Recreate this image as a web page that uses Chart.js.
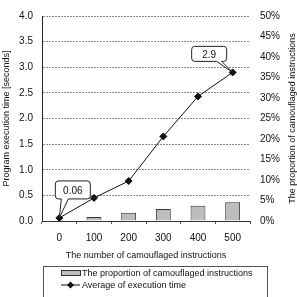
<!DOCTYPE html>
<html>
<head>
<meta charset="utf-8">
<script src="https://cdn.jsdelivr.net/npm/chart.js@4/dist/chart.umd.min.js"></script>
<style>
  html, body { margin: 0; padding: 0; background: #fff; }
  #wrap { width: 297px; height: 297px; }
</style>
</head>
<body>
<div id="wrap"><canvas id="canvas1" width="297" height="297"></canvas></div>
<script>
let instructions = ["0", "100", "200", "300", "400", "500"];
let proportion = [0, 1.0, 2.0, 2.9, 3.7, 4.6]; // percent
let execTime = [0.06, 0.45, 0.78, 1.65, 2.43, 2.9];
let calloutIndex = [0, 5];
let calloutText = ["0.06", "2.9"];

let fontFamily = "'Liberation Sans', Arial, sans-serif";
Chart.defaults.font.family = fontFamily;
Chart.defaults.color = "#111";

let ctx1 = document.getElementById("canvas1").getContext("2d");

function diamond(ctx, x, y, r) {
  ctx.beginPath();
  ctx.moveTo(x, y - r);
  ctx.lineTo(x + r, y);
  ctx.lineTo(x, y + r);
  ctx.lineTo(x - r, y);
  ctx.closePath();
  ctx.fill();
}

// box: offsets relative to the point, pointer base on the bottom edge
function callout(ctx, px, py, text, box) {
  let l = px + box.l, r = px + box.r, t = py + box.t, b = py + box.b;
  let rad = 3;
  ctx.save();
  ctx.beginPath();
  ctx.moveTo(l + rad, t);
  ctx.lineTo(r - rad, t);
  ctx.quadraticCurveTo(r, t, r, t + rad);
  ctx.lineTo(r, b - rad);
  ctx.quadraticCurveTo(r, b, r - rad, b);
  ctx.lineTo(px + box.p2, b);
  ctx.lineTo(px, py);
  ctx.lineTo(px + box.p1, b);
  ctx.lineTo(l + rad, b);
  ctx.quadraticCurveTo(l, b, l, b - rad);
  ctx.lineTo(l, t + rad);
  ctx.quadraticCurveTo(l, t, l + rad, t);
  ctx.closePath();
  ctx.fillStyle = "#fff";
  ctx.fill();
  ctx.strokeStyle = "#222";
  ctx.lineWidth = 1;
  ctx.stroke();
  ctx.fillStyle = "#111";
  ctx.font = "10px " + fontFamily;
  ctx.textAlign = "center";
  ctx.textBaseline = "middle";
  ctx.fillText(text, (l + r) / 2, (t + b) / 2 + 1);
  ctx.restore();
}

let extras = {
  id: "extras",
  afterDatasetsDraw(chart) {
    let ctx = chart.ctx;
    let pts = chart.getDatasetMeta(1).data;
    let boxes = [
      { l: -4, r: 31, t: -37, b: -19, p1: 2, p2: 9 },
      { l: -41, r: -6, t: -26, b: -11, p1: -16, p2: -11 },
    ];
    calloutIndex.forEach((idx, i) => {
      callout(ctx, pts[idx].x, pts[idx].y, calloutText[i], boxes[i]);
    });
  },
  afterDraw(chart) {
    let ctx = chart.ctx;
    let area = chart.chartArea;
    ctx.save();
    // right axis title, reading bottom to top
    ctx.translate(292.5, (area.top + area.bottom) / 2);
    ctx.rotate(-Math.PI / 2);
    ctx.font = "9px " + fontFamily;
    ctx.fillStyle = "#111";
    ctx.textAlign = "center";
    ctx.textBaseline = "middle";
    ctx.fillText("The proportion of camouflaged instructions", 0, 0);
    ctx.restore();

    // legend box
    let ds = chart.data.datasets;
    ctx.save();
    ctx.strokeStyle = "#555";
    ctx.lineWidth = 1;
    ctx.strokeRect(43.5, 266.5, 224, 40);
    ctx.fillStyle = "#bdbdbd";
    ctx.fillRect(61.5, 270.5, 19, 5);
    ctx.strokeStyle = "#333";
    ctx.strokeRect(61.5, 270.5, 19, 5);
    ctx.beginPath();
    ctx.moveTo(61, 285);
    ctx.lineTo(80, 285);
    ctx.strokeStyle = "#111";
    ctx.stroke();
    ctx.fillStyle = "#111";
    diamond(ctx, 70.5, 285, 3.5);
    ctx.font = "9px " + fontFamily;
    ctx.textAlign = "left";
    ctx.textBaseline = "middle";
    ctx.fillText(ds[0].label, 82, 273.5);
    ctx.fillText(ds[1].label, 82, 285.5);
    ctx.restore();
  },
};

let config1 = {
  type: "bar",
  data: {
    labels: instructions,
    datasets: [
      {
        label: "The proportion of camouflaged instructions",
        data: proportion,
        yAxisID: "y1",
        backgroundColor: "#bdbdbd",
        borderColor: "#333",
        borderWidth: 1,
        categoryPercentage: 1,
        barPercentage: 0.43,
        order: 2,
      },
      {
        type: "line",
        label: "Average of execution time",
        data: execTime,
        yAxisID: "y",
        borderColor: "#111",
        borderWidth: 1,
        pointStyle: "rectRot",
        pointRadius: 3.5,
        pointBackgroundColor: "#111",
        pointBorderColor: "#111",
        order: 1,
      },
    ],
  },
  options: {
    responsive: false,
    animation: false,
    layout: { padding: { top: 15, bottom: 35, left: 0, right: 0 } },
    plugins: {
      legend: { display: false },
      tooltip: { enabled: false },
    },
    scales: {
      x: {
        afterFit: (s) => { s.height = 41; },
        grid: {
          display: true,
          drawOnChartArea: false,
          drawTicks: true,
          tickLength: 3,
          color: "#555",
        },
        border: { display: true, color: "#333" },
        ticks: { font: { size: 10 }, padding: 8 },
        title: {
          display: true,
          text: "The number of camouflaged instructions",
          font: { size: 9 },
          padding: { top: 0, bottom: 1 },
        },
      },
      y: {
        position: "left",
        min: 0,
        max: 4,
        afterFit: (s) => { s.width = 42; },
        ticks: {
          stepSize: 0.5,
          font: { size: 10 },
          padding: 9,
          callback: (v) => v.toFixed(1),
        },
        grid: {
          color: "#8c8c8c",
          drawTicks: false,
        },
        // in v4 border.dash dashes the grid lines; the axis line stays solid
        border: { display: true, color: "#222", dash: [2, 1] },
        title: {
          display: true,
          text: "Program execution time [seconds]",
          font: { size: 9 },
          padding: { top: 1.5, bottom: 0 },
        },
      },
      y1: {
        position: "right",
        min: 0,
        max: 50,
        afterFit: (s) => { s.width = 47; },
        ticks: {
          stepSize: 5,
          font: { size: 10 },
          padding: 10,
          callback: (v) => v + "%",
        },
        grid: { drawOnChartArea: false, drawTicks: false },
        border: { display: false },
      },
    },
  },
  plugins: [extras],
};

let chart1 = new Chart(ctx1, config1);
</script>
</body>
</html>
